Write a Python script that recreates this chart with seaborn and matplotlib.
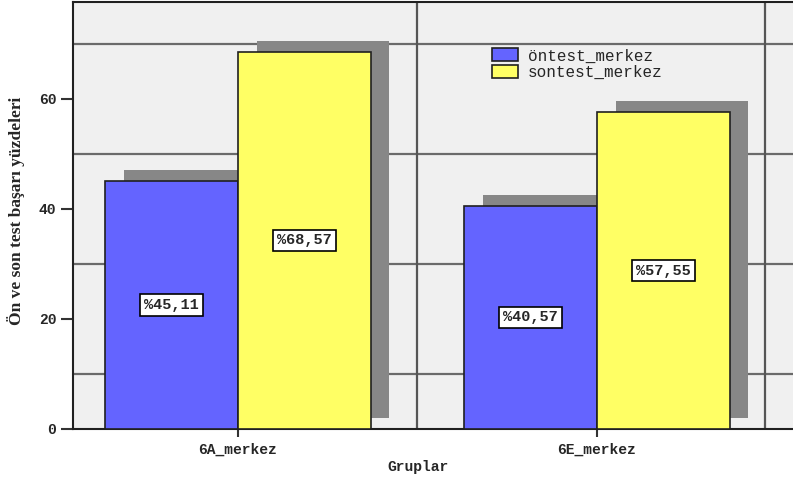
import matplotlib
matplotlib.use("Agg")
import matplotlib.pyplot as plt
from matplotlib.patches import Rectangle
import seaborn as sns
import pandas as pd

# Data
gruplar = ["6A_merkez", "6E_merkez"]
seriler = ["öntest_merkez", "sontest_merkez"]
ontest = [45.11, 40.57]
sontest = [68.57, 57.55]
y_ticks = [0, 20, 40, 60]
grid_lines = [10, 30, 50, 70]

renkler = {"öntest_merkez": "#6464ff", "sontest_merkez": "#ffff64"}

df = pd.DataFrame({
    "Gruplar": gruplar * 2,
    "yuzde": ontest + sontest,
    "seri": [seriler[0]] * len(gruplar) + [seriler[1]] * len(gruplar),
})

sns.set_style("white")
mono_b = {"family": ["Liberation Mono", "DejaVu Sans Mono"], "weight": "bold"}

fig = plt.figure(figsize=(7.93, 4.8), dpi=100)
fig.patch.set_facecolor("white")
ax = fig.add_axes([73 / 793, 51 / 480, 720 / 793, 427 / 480])
ax.set_facecolor("#f0f0f0")

sns.barplot(data=df, x="Gruplar", y="yuzde", hue="seri",
            order=gruplar, hue_order=seriler, palette=renkler,
            width=0.74, gap=0, saturation=1, edgecolor="#202020",
            linewidth=1.2, zorder=3, ax=ax)

# only the real bars (skip zero-size legend proxies)
bars = [b for b in ax.patches if b.get_height() > 0]

# drop shadows behind each bar
dx, dy = 0.052, 2.0
for b in bars:
    x, y = b.get_x(), b.get_y()
    w, h = b.get_width(), b.get_height()
    ax.add_patch(Rectangle((x + dx, y + dy), w, h, facecolor="#878787",
                           edgecolor="none", zorder=2))

# value labels in the middle of each bar
for b in bars:
    h = b.get_height()
    ax.text(b.get_x() + b.get_width() / 2, h / 2,
            "%" + f"{h:.2f}".replace(".", ","),
            ha="center", va="center", fontsize=11, fontdict=mono_b, zorder=5,
            bbox=dict(boxstyle="square,pad=0.25", facecolor="white",
                      edgecolor="black", linewidth=1.2))

ax.set_xlim(-0.4596, 1.546)
ax.set_ylim(0, 77.6)

# horizontal reference lines and group separators
for g in grid_lines:
    ax.axhline(g, color="#6a6a6a", lw=1.6, zorder=1)
for xv in [0.5, 1.468]:
    ax.axvline(xv, color="#555555", lw=1.6, zorder=1)

ax.set_yticks(y_ticks)
ax.set_yticklabels([str(t) for t in y_ticks], fontdict=mono_b, fontsize=10.5)
ax.set_xticks(range(len(gruplar)))
ax.set_xticklabels(gruplar, fontdict=mono_b, fontsize=10.5)
ax.tick_params(axis="y", length=9, width=1.5, color="#333333", pad=3, left=True)
ax.tick_params(axis="x", length=6, width=1.5, color="#333333", pad=4, bottom=True)

ax.set_xlabel("Gruplar", fontdict=mono_b, fontsize=10.5)
ax.xaxis.set_label_coords((418 - 73) / 720, -0.072)
ax.set_ylabel("Ön ve son test başarı yüzdeleri",
              family=["Liberation Serif", "DejaVu Serif"], weight="bold",
              fontsize=12.5)
ax.yaxis.set_label_coords(-(73 - 25) / 720, 0.51)

for side in ["left", "bottom", "top"]:
    ax.spines[side].set_visible(True)
    ax.spines[side].set_color("#202020")
    ax.spines[side].set_linewidth(1.5)
ax.spines["right"].set_visible(False)

handles, labels = ax.get_legend_handles_labels()
for hnd in handles:
    hnd.set_edgecolor("#202020")
    hnd.set_linewidth(1.2)
ax.legend(handles, labels, loc="upper left",
          bbox_to_anchor=((486 - 73) / 720, (429 - 42) / 427),
          frameon=False, handlelength=1.6, handleheight=0.85,
          handletextpad=0.6, labelspacing=0.1, borderaxespad=0,
          prop={"family": ["Liberation Mono", "DejaVu Sans Mono"], "size": 11.5})

fig.savefig("out.png", dpi=100)
